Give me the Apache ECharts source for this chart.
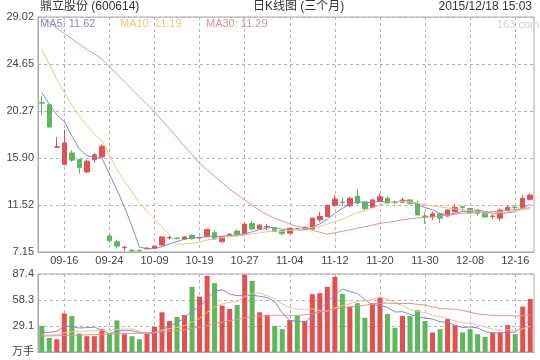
<!DOCTYPE html>
<html><head><meta charset="utf-8">
<script src="https://cdn.jsdelivr.net/npm/echarts@6/dist/echarts.min.js"></script>
<style>html,body{margin:0;padding:0;background:#fff}#c{width:540px;height:360px}</style>
</head><body><div id="c"></div>
<script>
const dates = ['09-11','09-14','09-15','09-16','09-17','09-18','09-21','09-22','09-23','09-24','09-25','09-28','09-29','09-30','10-08','10-09','10-12','10-13','10-14','10-15','10-16','10-19','10-20','10-21','10-22','10-23','10-26','10-27','10-28','10-29','10-30','11-02','11-03','11-04','11-05','11-06','11-09','11-10','11-11','11-12','11-13','11-16','11-17','11-18','11-19','11-20','11-23','11-24','11-25','11-26','11-27','11-30','12-01','12-02','12-03','12-04','12-07','12-08','12-09','12-10','12-11','12-14','12-15','12-16','12-17','12-18'];
const tickLabels = ['09-16','09-24','10-09','10-19','10-27','11-04','11-12','11-20','11-30','12-08','12-16'];
const priceTicks = [7.15, 29.02];
const volTicks = [0, 87.4];

const opens  = [21.05,20.86,16.9,15.3,16.37,15.75,14.6,15.75,16.0,8.65,8.1,7.55,7.3,7.3,7.45,7.5,7.8,8.45,8.45,8.35,8.7,8.45,8.57,8.95,8.1,8.75,9.1,8.85,9.8,9.3,9.48,9.35,9.15,8.9,9.32,9.3,9.3,10.15,10.45,11.5,11.8,11.45,12.35,11.8,11.3,11.85,12.15,11.8,11.78,12.0,11.65,10.5,10.4,10.7,10.5,10.9,11.35,11.2,11.05,10.75,10.45,10.3,11.0,11.32,11.3,12.05];
const closes = [21.0,18.78,16.95,17.3,15.69,15.0,15.6,16.2,17.0,8.2,7.7,7.6,7.25,7.27,7.5,7.7,8.55,8.5,8.4,8.55,8.4,8.5,9.25,8.35,8.55,8.8,8.75,9.75,9.3,9.65,9.52,9.05,8.85,9.35,9.28,9.45,10.3,10.45,11.5,12.05,11.75,12.15,11.7,11.2,12.0,12.3,11.7,11.75,12.0,11.65,10.6,10.45,10.7,10.3,11.05,11.3,11.3,10.8,10.75,10.4,10.5,11.05,11.3,11.28,12.15,12.45];
const lows   = [19.85,18.7,16.85,15.2,15.53,14.45,14.45,15.5,15.9,8.0,7.45,7.2,7.15,7.2,7.4,7.45,7.75,8.3,8.3,8.3,8.3,8.35,8.55,8.3,8.05,8.7,8.7,8.8,9.15,9.25,9.2,9.0,8.7,8.85,9.2,9.25,9.25,9.95,10.4,11.35,11.4,11.35,11.6,11.0,11.25,11.8,11.6,11.6,11.7,11.55,10.55,9.8,10.15,9.85,10.45,10.85,10.95,10.75,10.5,10.35,10.2,10.1,10.95,11.1,11.25,11.95];
const highs  = [21.7,20.95,17.85,18.5,16.62,15.8,15.75,16.35,17.15,8.9,8.3,7.75,7.45,7.4,7.6,7.75,8.6,8.65,8.5,8.6,8.8,8.6,9.3,9.2,8.6,8.9,9.25,9.8,10.05,9.75,9.75,9.4,9.2,9.4,9.4,9.5,10.35,10.9,11.55,12.45,12.2,12.3,13.0,11.9,12.1,12.55,12.3,11.95,12.2,12.05,11.9,10.9,10.9,10.8,11.1,11.6,11.5,11.25,11.1,10.8,10.65,11.2,11.5,11.45,12.45,12.6];

const ma5  = [22.0,20.9,19.9,19.3,17.94,16.74,16.11,15.96,15.90,14.40,12.94,11.34,9.55,7.60,7.46,7.46,7.65,7.90,8.13,8.34,8.48,8.47,8.62,8.61,8.61,8.69,8.74,8.84,9.03,9.25,9.39,9.45,9.27,9.28,9.21,9.20,9.45,9.77,10.20,10.75,11.21,11.58,11.83,11.77,11.76,11.87,11.78,11.79,11.95,11.88,11.54,11.29,11.08,10.74,10.62,10.76,10.93,10.95,11.04,10.91,10.75,10.70,10.80,10.91,11.26,11.62];
const ma10 = [26.0,24.6,23.2,22.0,20.8,19.8,18.9,18.1,17.5,16.17,14.84,13.73,12.76,11.75,10.93,10.20,9.50,8.73,7.87,7.90,7.97,8.06,8.26,8.37,8.48,8.59,8.61,8.73,8.82,8.93,9.04,9.10,9.06,9.16,9.23,9.30,9.45,9.52,9.74,9.98,10.21,10.52,10.80,10.99,11.26,11.54,11.68,11.81,11.86,11.82,11.71,11.54,11.44,11.35,11.25,11.15,11.11,11.02,10.89,10.77,10.76,10.82,10.88,10.98,11.09,11.19];
const ma30 = [28.95,28.5,28.0,27.5,27.0,26.5,26.0,25.6,25.1,24.4,23.7,23.0,22.3,21.6,20.9,20.2,19.4,18.6,17.8,17.0,16.2,15.4,14.8,14.2,13.6,13.0,12.5,12.0,11.5,11.00,10.62,10.29,10.02,9.76,9.55,9.36,9.18,8.99,8.81,8.94,9.07,9.22,9.37,9.50,9.65,9.81,9.91,10.02,10.14,10.24,10.32,10.38,10.43,10.50,10.58,10.66,10.75,10.78,10.83,10.86,10.89,10.95,11.04,11.10,11.20,11.29];

const volumes = [29.3,15.8,14.3,43.3,40.3,20.7,17.7,17.7,25.6,20.7,35.4,20.0,17.7,14.3,20.7,28.2,44.5,34.7,39.2,41.4,73.0,62.1,85.4,77.2,51.9,48.2,52.7,86.6,79.8,44.5,41.4,29.3,25.6,35.8,40.6,34.7,64.8,65.9,73.0,84.3,65.1,50.8,54.6,38.4,54.6,61.4,42.6,27.1,40.3,40.3,47.1,34.7,21.9,25.6,36.9,30.1,21.9,25.6,20.0,17.0,21.9,21.9,30.1,20.0,50.8,59.5];
const vma5  = [22,22,23,29,28.6,26.9,27.3,27.9,24.4,20.5,23.4,23.9,23.9,21.6,21.6,20.2,25.1,28.5,33.5,37.6,46.6,50.1,60.2,67.8,69.9,65.0,63.1,63.3,63.8,62.4,61.0,56.3,44.1,35.3,34.5,33.2,40.3,48.4,55.8,64.5,70.6,67.8,65.6,58.6,52.7,52.0,50.3,44.8,45.2,42.3,39.5,37.9,36.9,33.9,33.2,29.8,27.3,28.0,26.9,22.9,21.3,21.3,22.2,22.2,28.9,36.5];
const vma10 = [19,19,19.5,21.5,22.5,23,23.5,24,24.5,24.5,25.2,25.6,25.9,23.0,21.1,21.8,24.5,26.2,27.5,29.6,33.4,37.6,44.4,50.6,53.8,55.8,56.6,61.8,65.8,66.1,63.0,59.7,53.7,49.6,48.5,47.1,48.3,46.2,45.6,49.5,51.9,54.1,57.0,57.2,58.6,61.3,59.1,55.2,51.9,47.5,45.7,44.1,40.8,39.6,37.8,34.7,32.6,32.4,30.4,28.1,25.6,24.3,25.1,24.5,25.9,28.9];
const vma30 = [18,18,18.2,18.5,18.8,19,19.2,19.5,19.8,20,20.3,20.6,20.9,21.2,21.5,22,22.6,23.3,24,25,26.5,28,30,32,33.5,35,36.5,38,39.3,40.1,40.5,41.0,41.3,41.1,41.1,41.6,43.1,44.7,46.3,48.4,49.4,50.4,51.7,52.5,53.6,54.7,54.7,54.4,54.4,54.4,53.5,52.6,50.5,48.8,48.3,47.7,46.7,44.6,42.6,41.7,41.1,40.8,41.0,40.4,40.8,41.6];

const RED = '#e4504f', GREEN = '#5cb85a';
const C5 = '#8585d6', C10 = '#f1c483', C30 = '#e59090';
const FONT = '"Liberation Sans", Arial, "Noto Sans CJK SC", sans-serif';
const GRID_C = '#a8a8a8', DASH_C = '#b4b4b4';

const chart = echarts.init(document.getElementById('c'), null, {renderer: 'canvas'});
const showTick = (i, v) => tickLabels.indexOf(v) >= 0;
const dashLine = {show: true, lineStyle: {type: [3, 3], color: DASH_C, width: 1, opacity: 1}};
const vSplit = {show: true, interval: showTick, alignWithLabel: true, lineStyle: {type: [3, 3], color: DASH_C, width: 1, opacity: 1}};
const pStep = (priceTicks[1] - priceTicks[0]) / 5;
const vStep = (volTicks[1] - volTicks[0]) / 3 + 0.0001;
const last = a => a[a.length - 1].toFixed(2);
const lineS = (name, data, color, xi, yi) => ({
  name, type: 'line', data, xAxisIndex: xi, yAxisIndex: yi, symbol: 'none', showSymbol: false,
  lineStyle: {width: 1, color}, itemStyle: {color}, silent: true, animation: false, z: 3
});

chart.setOption({
  animation: false,
  backgroundColor: '#fff',
  textStyle: {fontFamily: FONT},
  grid: [
    {left: 38, right: 6, top: 17, height: 235, show: true, borderColor: GRID_C, borderWidth: 1, backgroundColor: 'transparent'},
    {left: 38, right: 6, top: 274, height: 78, show: true, borderColor: GRID_C, borderWidth: 1, backgroundColor: 'transparent'}
  ],
  xAxis: [
    {type: 'category', data: dates, gridIndex: 0, boundaryGap: true,
     axisLine: {show: true, lineStyle: {color: GRID_C}}, axisTick: {show: false, alignWithLabel: true, interval: showTick},
     axisLabel: {interval: showTick, color: '#444', fontSize: 11, margin: 3, fontFamily: FONT},
     splitLine: vSplit},
    {type: 'category', data: dates, gridIndex: 1, boundaryGap: true,
     axisLine: {show: true, lineStyle: {color: GRID_C}}, axisTick: {show: false, alignWithLabel: true, interval: showTick},
     axisLabel: {show: false, interval: showTick}, splitLine: vSplit}
  ],
  yAxis: [
    {type: 'value', gridIndex: 0, min: priceTicks[0], max: priceTicks[1], interval: pStep, scale: true,
     axisLine: {show: true, lineStyle: {color: GRID_C}}, axisTick: {show: false},
     axisLabel: {color: '#444', fontSize: 11, margin: 4, fontFamily: FONT, formatter: v => v.toFixed(2)},
     splitLine: dashLine},
    {type: 'value', gridIndex: 1, min: volTicks[0], max: volTicks[1], interval: vStep,
     axisLine: {show: true, lineStyle: {color: GRID_C}}, axisTick: {show: false},
     axisLabel: {color: '#444', fontSize: 11, margin: 4, fontFamily: FONT,
       formatter: v => v === 0 ? '万手' : v.toFixed(1)},
     splitLine: dashLine}
  ],
  graphic: [
    {type: 'text', left: 40, top: 1, style: {text: '鼎立股份 (600614)', fill: '#333', fontSize: 12, fontFamily: FONT}},
    {type: 'text', left: 253, top: 1, style: {text: '日K线图 (三个月)', fill: '#333', fontSize: 12, fontFamily: FONT}},
    {type: 'text', right: 8, top: 1, style: {text: '2015/12/18 15:03', fill: '#333', fontSize: 12, fontFamily: FONT}},
    {type: 'text', left: 40, top: 18, z: 10, style: {text: 'MA5: ' + last(ma5), fill: C5, fontSize: 11, fontFamily: FONT}},
    {type: 'text', left: 120, top: 18, z: 10, style: {text: 'MA10: ' + last(ma10), fill: C10, fontSize: 11, fontFamily: FONT}},
    {type: 'text', left: 206, top: 18, z: 10, style: {text: 'MA30: ' + last(ma30), fill: C30, fontSize: 11, fontFamily: FONT}},
    {type: 'text', left: 497, top: 19, z: 10, style: {text: '163.com', fill: '#cfcfcf', fontSize: 11, fontFamily: FONT}}
  ],
  series: [
    {name: 'K', type: 'candlestick', xAxisIndex: 0, yAxisIndex: 0, barWidth: 5,
     data: dates.map((d, i) => [opens[i], closes[i], lows[i], highs[i]]),
     itemStyle: {color: RED, color0: GREEN, borderColor: RED, borderColor0: GREEN, borderWidth: 1},
     silent: true, animation: false, z: 2},
    lineS('MA5', ma5, C5, 0, 0),
    lineS('MA10', ma10, C10, 0, 0),
    lineS('MA30', ma30, C30, 0, 0),
    {name: 'VOL', type: 'bar', xAxisIndex: 1, yAxisIndex: 1, barWidth: 5,
     data: volumes.map((v, i) => ({value: v, itemStyle: {color: closes[i] >= opens[i] ? RED : GREEN}})),
     silent: true, animation: false, z: 2},
    lineS('VMA5', vma5, C5, 1, 1),
    lineS('VMA10', vma10, C10, 1, 1),
    lineS('VMA30', vma30, C30, 1, 1)
  ]
});
</script>
</body></html>
